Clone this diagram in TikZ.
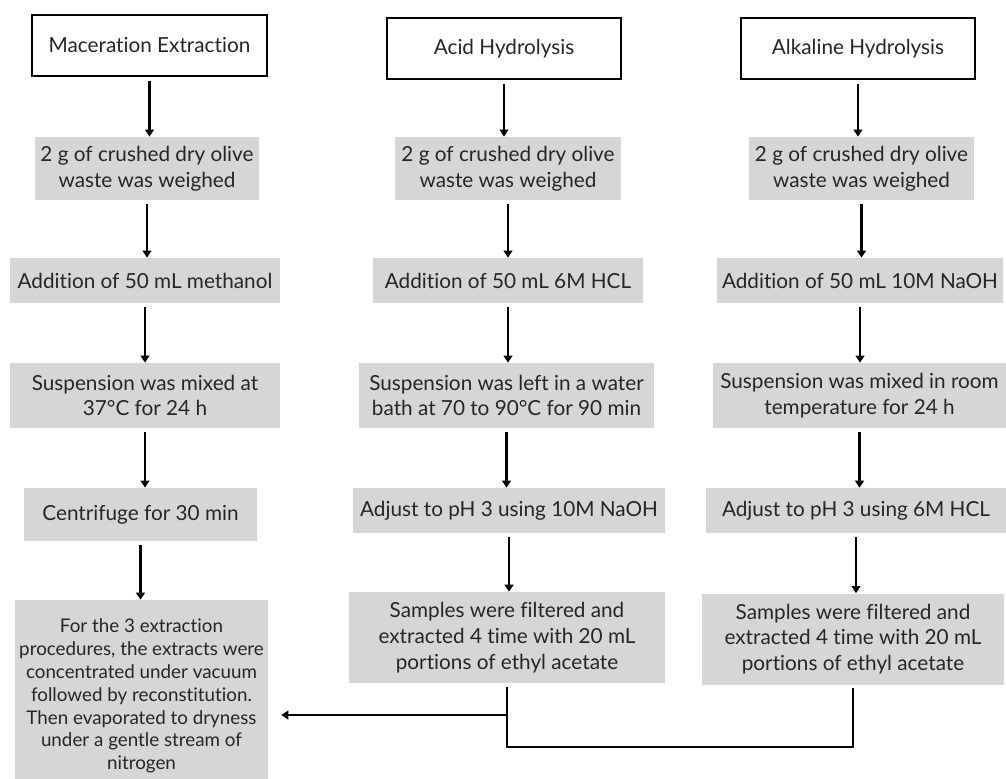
\documentclass[tikz,border=0pt]{standalone}
\usepackage{fontspec}
\setmainfont{Lato}[Ligatures=NoCommon]
\usetikzlibrary{arrows.meta}
\definecolor{boxgray}{HTML}{D6D6D6}
\definecolor{inkgray}{HTML}{262626}

\begin{document}
\begin{tikzpicture}[x=0.02cm,y=-0.02cm,>={Triangle[length=4pt,width=5pt]},
  titlebox/.style={draw=black,line width=1.2pt,fill=white,text=inkgray,inner sep=2pt,align=center},
  stepbox/.style={fill=boxgray,text=inkgray,inner sep=2pt,align=center},
  flow/.style={->,line width=1.2pt,shorten <=2pt},
  font=\fontsize{11.8}{14.7}\selectfont]
  \useasboundingbox (0,0) rectangle (1006,778);
  % maceration extraction
  \node[titlebox,minimum width=4.70cm,minimum height=1.22cm] (mt) at (149.5,45.5) {Maceration Extraction};
  \node[stepbox,minimum width=4.48cm,minimum height=1.26cm] (m1) at (147,168.5) {2 g of crushed dry olive\\waste was weighed};
  \node[stepbox,minimum width=5.40cm,minimum height=0.90cm] (m2) at (145,280.5) {Addition of 50 mL methanol};
  \node[stepbox,minimum width=5.40cm,minimum height=1.30cm] (m3) at (145,395.5) {Suspension was mixed at\\37°C for 24 h};
  \node[stepbox,minimum width=4.66cm,minimum height=1.06cm] (m4) at (140.5,514.5) {Centrifuge for 30 min};
  \node[stepbox,minimum width=5.06cm,minimum height=3.84cm,font=\fontsize{10.7}{13}\selectfont] (fin) at (141.5,696)
    {For the 3 extraction\\procedures, the extracts were\\concentrated under vacuum\\followed by reconstitution.\\Then evaporated to dryness\\under a gentle stream of\\nitrogen};
  \draw[flow] (mt.south) -- (mt.south |- m1.north);
  \draw[flow] (m1.south) -- (m1.south |- m2.north);
  \draw[flow] (m2.south) -- (m2.south |- m3.north);
  \draw[flow] (m3.south) -- (m3.south |- m4.north);
  \draw[flow] (m4.south) -- (m4.south |- fin.north);
  % acid hydrolysis
  \node[titlebox,minimum width=4.68cm,minimum height=1.22cm] (at) at (504,48.5) {Acid Hydrolysis};
  \node[stepbox,minimum width=4.52cm,minimum height=1.26cm] (a1) at (508,168.5) {2 g of crushed dry olive\\waste was weighed};
  \node[stepbox,minimum width=5.40cm,minimum height=0.90cm] (a2) at (508,280.5) {Addition of 50 mL 6M HCL};
  \node[stepbox,minimum width=5.90cm,minimum height=1.30cm] (a3) at (506.5,395.5) {Suspension was left in a water\\bath at 70 to 90°C for 90 min};
  \node[stepbox,minimum width=6.24cm,minimum height=0.90cm] (a4) at (509,510.5) {Adjust to pH 3 using 10M NaOH};
  \node[stepbox,minimum width=6.32cm,minimum height=1.82cm] (a5) at (507,637.5) {Samples were filtered and\\extracted 4 time with 20 mL\\portions of ethyl acetate};
  \draw[flow] (at.south) -- (at.south |- a1.north);
  \draw[flow] (a1.south) -- (a1.south |- a2.north);
  \draw[flow] (a2.south) -- (a2.south |- a3.north);
  \draw[flow] (a3.south) -- (a3.south |- a4.north);
  \draw[flow] (a4.south) -- (a4.south |- a5.north);
  % alkaline hydrolysis
  \node[titlebox,minimum width=4.68cm,minimum height=1.22cm] (kt) at (858,48.5) {Alkaline Hydrolysis};
  \node[stepbox,minimum width=4.50cm,minimum height=1.26cm] (k1) at (861.5,168.5) {2 g of crushed dry olive\\waste was weighed};
  \node[stepbox,minimum width=5.72cm,minimum height=0.90cm] (k2) at (860,280.5) {Addition of 50 mL 10M NaOH};
  \node[stepbox,minimum width=5.86cm,minimum height=1.30cm] (k3) at (859.5,395.5) {Suspension was mixed in room\\temperature for 24 h};
  \node[stepbox,minimum width=6.00cm,minimum height=0.90cm] (k4) at (856,510.5) {Adjust to pH 3 using 6M HCL};
  \node[stepbox,minimum width=6.04cm,minimum height=1.82cm] (k5) at (853,639) {Samples were filtered and\\extracted 4 time with 20 mL\\portions of ethyl acetate};
  \draw[flow] (kt.south) -- (kt.south |- k1.north);
  \draw[flow] (k1.south) -- (k1.south |- k2.north);
  \draw[flow] (k2.south) -- (k2.south |- k3.north);
  \draw[flow] (k3.south) -- (k3.south |- k4.north);
  \draw[flow] (k4.south) -- (k4.south |- k5.north);
  % joining the two hydrolysis routes
  \draw[line width=1.2pt,shorten <=2pt,shorten >=2pt] (a5.south) -- (a5.south |- 0,747) -| (k5.south);
  \draw[flow,shorten <=0pt,shorten >=0.26cm] (a5.south |- 0,715) -- (fin.east |- 0,715);
\end{tikzpicture}
\end{document}
